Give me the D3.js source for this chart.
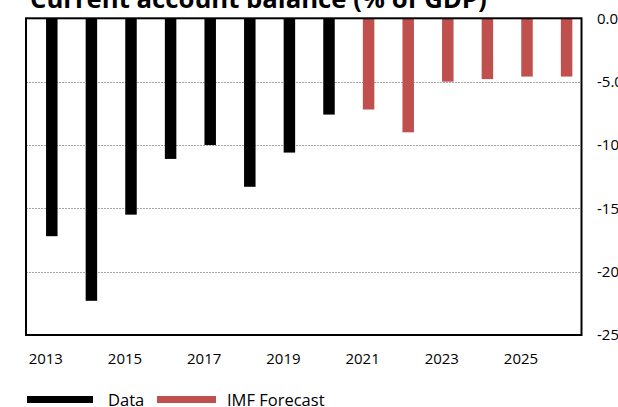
<!DOCTYPE html>
<html>
<head>
<meta charset="utf-8">
<script src="https://cdn.jsdelivr.net/npm/d3@7"></script>
<style>
  body { margin: 0; background: #fff; }
  svg { display: block; font-family: "Open Sans", sans-serif; }
</style>
</head>
<body>
<div id="chart"></div>
<script>
// Chart data
const years = [2013, 2014, 2015, 2016, 2017, 2018, 2019, 2020, 2021, 2022, 2023, 2024, 2025, 2026];
const actual = [-17.2, -22.3, -15.5, -11.1, -10.0, -13.3, -10.6, -7.6];   // 2013-2020
const forecast = [-7.2, -9.0, -5.0, -4.8, -4.6, -4.6];                   // 2021-2026
const yTicks = [0, -5, -10, -15, -20, -25];
const labelYears = [2013, 2015, 2017, 2019, 2021, 2023, 2025];
const titleText = "Current account balance (% of GDP)";

const rows = years.map((year, i) => ({
    year: year,
    value: i < actual.length ? actual[i] : forecast[i - actual.length],
    kind: i < actual.length ? "data" : "forecast"
}));

const width = 618;
const height = 407;
const box = { left: 26, right: 581.5, top: 18.3, bottom: 335 };
const colors = { data: "#000000", forecast: "#C0504D" };

const svg = d3.select("#chart")
    .append("svg")
    .attr("width", width)
    .attr("height", height);

// Scales
const x = d3.scaleBand()
    .domain(years)
    .range([32, 586.4])
    .paddingInner(0.71)
    .paddingOuter(0.355);

const y = d3.scaleLinear()
    .domain([0, -25])
    .range([box.top, box.bottom]);

// Dotted gridlines
svg.append("g")
    .selectAll("line")
    .data(yTicks.filter((d) => d !== 0 && d !== -25))
    .enter()
    .append("line")
    .attr("x1", box.left)
    .attr("x2", box.right)
    .attr("y1", (d) => Math.round(y(d)) + 0.5)
    .attr("y2", (d) => Math.round(y(d)) + 0.5)
    .style("stroke", "#a6a6a6")
    .style("stroke-width", 1)
    .style("stroke-dasharray", "2,1");

// Bars hang down from zero
svg.append("g")
    .selectAll("rect")
    .data(rows)
    .enter()
    .append("rect")
    .attr("x", (d) => x(d.year))
    .attr("width", x.bandwidth())
    .attr("y", y(0))
    .attr("height", (d) => y(d.value) - y(0))
    .style("fill", (d) => colors[d.kind]);

// Plot frame
svg.append("rect")
    .attr("x", box.left)
    .attr("y", box.top)
    .attr("width", box.right - box.left)
    .attr("height", box.bottom - box.top)
    .style("fill", "none")
    .style("stroke", "#000")
    .style("stroke-width", 2);

// Right-hand value axis (labels run past the right edge, as in the crop)
const fmt = (d) => d3.format(".1f")(d).replace("\u2212", "-");
const yAxis = svg.append("g")
    .attr("transform", "translate(597,0)")
    .call(d3.axisRight(y).tickValues(yTicks).tickSize(0).tickPadding(0).tickFormat(fmt));
yAxis.select(".domain").remove();
yAxis.selectAll("text")
    .attr("x", 0)
    .style("font-family", "Open Sans, sans-serif")
    .style("font-size", "15px")
    .style("fill", "#000");

// Year labels
const xAxis = svg.append("g")
    .attr("transform", "translate(-6,0)")
    .call(d3.axisBottom(x).tickValues(labelYears).tickSize(0).tickPadding(0));
xAxis.select(".domain").remove();
xAxis.selectAll("text")
    .attr("y", 363.5)
    .attr("dy", 0)
    .style("font-family", "Open Sans, sans-serif")
    .style("font-size", "15px")
    .style("fill", "#000");

// Title (top is cut off in the reference crop)
const title = svg.append("text")
    .attr("x", 30)
    .attr("y", 7.5)
    .style("font-weight", "bold")
    .style("font-size", "24px")
    .style("fill", "#000")
    .text(titleText);
const tw = title.node().getComputedTextLength();
title.style("font-size", (24 * 457 / tw) + "px");

// Legend
const legend = [
    { label: "Data", kind: "data", x: 27, w: 66, tx: 108 },
    { label: "IMF Forecast", kind: "forecast", x: 157, w: 59, tx: 227 }
];
const lg = svg.append("g")
    .selectAll("g")
    .data(legend)
    .enter()
    .append("g");
lg.append("rect")
    .attr("x", (d) => d.x)
    .attr("y", 396)
    .attr("width", (d) => d.w)
    .attr("height", 7)
    .style("fill", (d) => colors[d.kind]);
lg.append("text")
    .attr("x", (d) => d.tx)
    .attr("y", 406)
    .style("font-size", "16.5px")
    .style("fill", "#000")
    .text((d) => d.label);
</script>
</body>
</html>
